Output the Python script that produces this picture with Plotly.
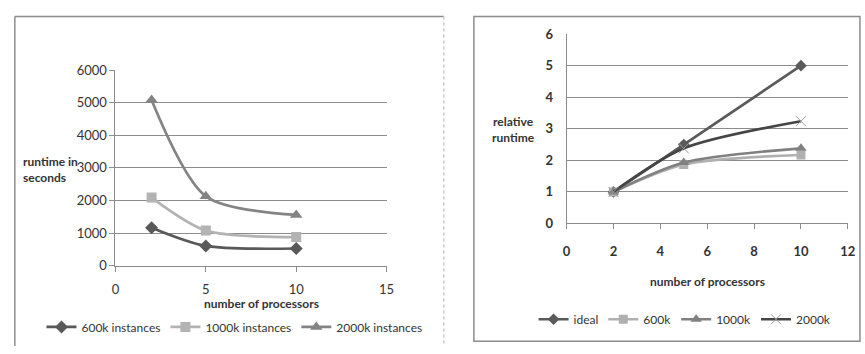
import plotly.graph_objects as go

# Left chart data
procs = [2, 5, 10]
rt_600k = [1170, 610, 530]
rt_1000k = [2090, 1080, 880]
rt_2000k = [5080, 2130, 1560]

# Right chart data
rel_ideal = [1, 2.5, 5]
rel_600k = [1, 1.87, 2.17]
rel_1000k = [1, 1.93, 2.38]
rel_2000k = [1, 2.38, 3.24]

W, H = 865, 354
def px(x): return x / W
def py(y): return 1 - y / H

FONT = "Lato"
TXT = "#333333"

fig = go.Figure()
line_kw = dict(shape="spline", smoothing=0.8, width=2.7)

fig.add_trace(go.Scatter(x=procs, y=rt_600k, name="600k instances", mode="lines+markers",
    line=dict(color="#595959", **line_kw), marker=dict(symbol="diamond", size=10, color="#595959"),
    xaxis="x", yaxis="y", legend="legend"))
fig.add_trace(go.Scatter(x=procs, y=rt_1000k, name="1000k instances", mode="lines+markers",
    line=dict(color="#b3b3b3", **line_kw), marker=dict(symbol="square", size=10, color="#b3b3b3"),
    xaxis="x", yaxis="y", legend="legend"))
fig.add_trace(go.Scatter(x=procs, y=rt_2000k, name="2000k instances", mode="lines+markers",
    line=dict(color="#848484", **line_kw), marker=dict(symbol="triangle-up", size=11, color="#848484"),
    xaxis="x", yaxis="y", legend="legend"))

fig.add_trace(go.Scatter(x=procs, y=rel_ideal, name="ideal", mode="lines+markers",
    line=dict(color="#5a5a5a", **line_kw), marker=dict(symbol="diamond", size=9, color="#5a5a5a"),
    xaxis="x2", yaxis="y2", legend="legend2"))
fig.add_trace(go.Scatter(x=procs, y=rel_600k, name="600k", mode="lines+markers",
    line=dict(color="#b0b0b0", **line_kw), marker=dict(symbol="square", size=9, color="#b0b0b0"),
    xaxis="x2", yaxis="y2", legend="legend2"))
fig.add_trace(go.Scatter(x=procs, y=rel_1000k, name="1000k", mode="lines+markers",
    line=dict(color="#808080", **line_kw), marker=dict(symbol="triangle-up", size=10, color="#808080"),
    xaxis="x2", yaxis="y2", legend="legend2"))
fig.add_trace(go.Scatter(x=procs, y=rel_2000k, name="2000k", mode="lines+markers",
    line=dict(color="#454545", **line_kw), marker=dict(symbol="x-thin-open", size=10, color="#9a9a9a", line=dict(width=1, color="#9a9a9a")),
    xaxis="x2", yaxis="y2", legend="legend2"))

axis_common = dict(showline=True, linecolor="#8c8c8c", linewidth=1, zeroline=False,
                   ticks="outside", ticklen=5, tickcolor="#8c8c8c", fixedrange=True)

fig.update_layout(
    width=W, height=H, margin=dict(l=0, r=0, t=0, b=0),
    paper_bgcolor="white", plot_bgcolor="white",
    font=dict(family=FONT, size=12, color=TXT),
    xaxis=dict(domain=[px(113), px(388)], range=[0, 15], tickvals=[0, 5, 10, 15],
               showgrid=False, anchor="y", tickfont=dict(size=13, color=TXT), ticklabelstandoff=7,
               **axis_common),
    yaxis=dict(domain=[py(270), py(65)], range=[0, 6000], tickvals=[0, 1000, 2000, 3000, 4000, 5000, 6000],
               showgrid=True, gridcolor="#8c8c8c", gridwidth=1, anchor="x", tickfont=dict(size=13, color=TXT),
               **axis_common),
    xaxis2=dict(domain=[px(570.5), px(855.7)], range=[0, 12], tickvals=[0, 2, 4, 6, 8, 10, 12],
                showgrid=False, anchor="y2", tickfont=dict(size=13, color=TXT, weight="bold"),
                ticklabelstandoff=11, **axis_common),
    yaxis2=dict(domain=[py(225.7), py(27.3)], range=[0, 6], tickvals=[0, 1, 2, 3, 4, 5, 6],
                showgrid=True, gridcolor="#8c8c8c", gridwidth=1, anchor="x2",
                tickfont=dict(size=13, color=TXT, weight="bold"), ticklabelstandoff=10,
                showline=True, linecolor="#8c8c8c", linewidth=1, zeroline=False, ticks="", fixedrange=True),
    legend=dict(orientation="h", x=px(38), y=py(334), xanchor="left", yanchor="middle",
                font=dict(size=12, color=TXT), itemwidth=30, tracegroupgap=0, bgcolor="rgba(0,0,0,0)"),
    legend2=dict(orientation="h", x=px(537), y=py(326), xanchor="left", yanchor="middle",
                 font=dict(size=12, color=TXT), itemwidth=30, tracegroupgap=0, bgcolor="rgba(0,0,0,0)"),
    showlegend=True,
)

# frames
fig.add_shape(type="line", xref="paper", yref="paper", x0=px(11), x1=px(11), y0=py(9), y1=0,
              line=dict(color="#8c8c8c", width=1.5))
fig.add_shape(type="line", xref="paper", yref="paper", x0=px(11), x1=px(446), y0=py(9), y1=py(9),
              line=dict(color="#8c8c8c", width=1.5))
fig.add_shape(type="line", xref="paper", yref="paper", x0=px(446), x1=px(446), y0=py(9), y1=0,
              line=dict(color="#c8c8c8", width=1.5, dash="dot"))
fig.add_shape(type="rect", xref="paper", yref="paper", x0=px(476.5), x1=px(868), y0=py(349), y1=py(9),
              line=dict(color="#8c8c8c", width=1.5))

# titles
fig.add_annotation(text="<b>runtime in<br>seconds</b>", xref="paper", yref="paper", x=px(17), y=py(169),
                   xanchor="left", yanchor="middle", showarrow=False, align="left",
                   font=dict(size=12, color=TXT))
fig.add_annotation(text="<b>number of processors</b>", xref="paper", yref="paper", x=px(261), y=py(310),
                   xanchor="center", yanchor="middle", showarrow=False, font=dict(size=12, color=TXT))
fig.add_annotation(text="<b>relative<br>runtime</b>", xref="paper", yref="paper", x=px(517), y=py(127),
                   xanchor="center", yanchor="middle", showarrow=False, align="center",
                   font=dict(size=12, color=TXT))
fig.add_annotation(text="<b>number of processors</b>", xref="paper", yref="paper", x=px(713), y=py(286),
                   xanchor="center", yanchor="middle", showarrow=False, font=dict(size=12, color=TXT))

fig.write_html("out.html")
